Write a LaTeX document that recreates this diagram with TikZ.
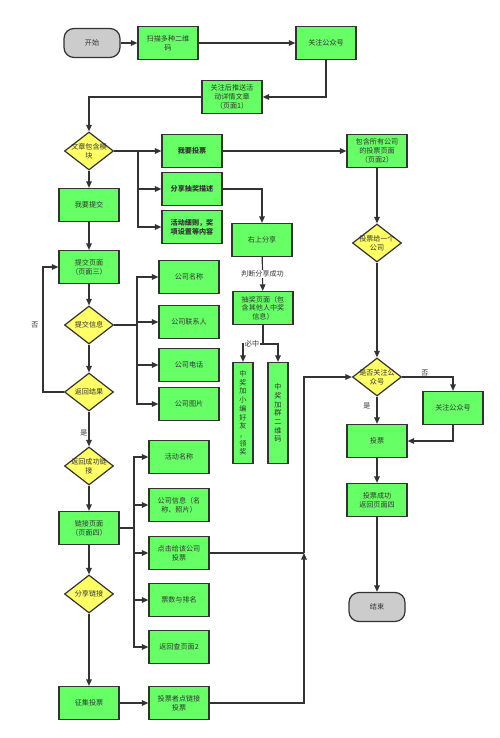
\documentclass[tikz,border=0pt]{standalone}
\usepackage{fontspec}
\setmainfont{Noto Sans CJK SC}
\usetikzlibrary{shapes.geometric,arrows.meta}
\definecolor{boxg}{HTML}{66FF66}
\definecolor{decy}{HTML}{FFFF66}
\definecolor{endg}{HTML}{CCCCCC}
\definecolor{ink}{HTML}{333333}
\begin{document}
\begin{tikzpicture}[x=1pt,y=-1pt, line width=1.2pt, color=ink,
  font=\fontsize{7.1}{8.7}\selectfont,
  gbox/.style={draw=ink, fill=boxg, minimum width=60pt, minimum height=33pt, align=center, inner sep=1pt},
  gboxb/.style={gbox, font=\fontsize{7.1}{8.7}\selectfont\bfseries},
  vbox/.style={draw=ink, fill=boxg, minimum width=20pt, minimum height=101pt, align=center, inner sep=1pt},
  tbox/.style={draw=ink, fill=endg, rounded corners=10pt, minimum width=56pt, minimum height=29pt},
  dec/.style={diamond, draw=ink, fill=decy, minimum width=49pt, minimum height=38pt, inner sep=0pt},
  link/.style={-{Triangle[length=6.5pt,width=5.5pt]}},
  tag/.style={fill=white, inner sep=1pt}]

  \useasboundingbox[fill=white] (0,0) rectangle (500,738);

	%top row
    \node[tbox] (start) at (92,43) {开始};
    \node[tbox] (end) at (377,607) {结束};
    \node[gbox] (scan) at (168,43) {扫描多种二维\\码};
    \node[gbox] (fol1) at (326,43) {关注公众号};
    \node[gbox] (push) at (232,97) {关注后推送活\\动详情文章\\（页面1）};

	%diamonds
    \foreach \x/\y/\txt/\name in { 89/151/{文章包含模\\块}/modl, 377/243/{投票给一个\\公司}/pick,
          377/377/{是否关注公\\众号}/isfol, 89/325/提交信息/info, 89/392/返回结果/result,
          89/466/{返回成功链\\接}/retlk, 89/594/分享链接/sharelk}{
         \node[dec] (\name) at (\x,\y) {};
         \node[align=center] (\name-t) at (\name) {\txt};
    }

	%module boxes
    \foreach \y/\txt/\name in { 151/我要投票/vote, 189/分享抽奖描述/share, 227/{活动细则，奖\\项设置等内容}/rules}{
         \node[gboxb] (\name) at (192,\y) {\txt};
    }

	%left column
    \foreach \y/\txt/\name in { 205/我要提交/submit, 267/{提交页面\\（页面三）}/page3,
          528/{链接页面\\（页面四）}/linkpg, 703/征集投票/collect}{
         \node[gbox] (\name) at (89,\y) {\txt};
    }

	%company info
    \foreach \y/\txt/\name in { 277/公司名称/cname, 322/公司联系人/ccont, 365/公司电话/ctel, 404/公司图片/cpic}{
         \node[gbox] (\name) at (189,\y) {\txt};
    }

	%link page
    \foreach \y/\txt/\name in { 457/活动名称/aname, 505/{公司信息（名\\称、照片）}/cinfo,
          553/{点击给该公司\\投票}/clickv, 600/票数与排名/rank, 647/返回查页面2/back2, 703/{投票者点链接\\投票}/voter}{
         \node[gbox] (\name) at (179,\y) {\txt};
    }

	%share path
    \node[gbox] (shr) at (262,240) {右上分享};
    \node[gbox] (lot) at (263,308) {抽奖页面（包\\含其他人中奖\\信息）};
    \node[vbox] (prz1) at (243,413) {中\\奖\\加\\小\\编\\好\\友\\，\\领\\奖};
    \node[vbox] (prz2) at (278,413) {中\\奖\\加\\群\\二\\维\\码};

	%vote path
    \node[gbox] (allpg) at (377,151) {包含所有公司\\的投票页面\\（页面2）};
    \node[gbox] (fol2) at (453,408) {关注公众号};
    \node[gbox] (ticket) at (377,441) {投票};
    \node[gbox] (done) at (377,500) {投票成功\\返回页面四};

	%junctions
    \coordinate (b1) at (138,151);
    \coordinate (b2) at (137,325);
    \coordinate (b3) at (134,528);
    \coordinate (s) at (263,344);
    \coordinate (j) at (304,553);

	%arrows
    \draw[link] (start) -- (scan);
    \draw[link] (scan) -- (fol1);
    \draw[link] (fol1) |- (push);
    \draw[link] (push) -| (modl);
    \draw[link] (modl) -- (vote);
    \draw[link] (b1) |- (share);
    \draw[link] (b1) |- (rules);
    \draw[link] (modl) -- (submit);
    \draw[link] (submit) -- (page3);
    \draw[link] (page3) -- (info);
    \draw[link] (info) -- (result);
    \draw[link] (result.west) -- ++(-21,0) |- (page3.west);
    \node (no1) at (35,325) {否};
    \draw (info.east) -- (b2);
    \foreach \name in {cname,ccont,ctel,cpic}{
         \draw[link] (b2) |- (\name);
    }
    \draw[link] (result) -- (retlk);
    \node (yes1) at (84,433) {是};
    \draw[link] (retlk) -- (linkpg);
    \draw[link] (linkpg) -- (sharelk);
    \draw[link] (sharelk) -- (collect);
    \draw[link] (collect) -- (voter);
    \draw (linkpg.east) -- (b3);
    \foreach \name in {aname,cinfo,clickv,rank,back2}{
         \draw[link] (b3) |- (\name);
    }

    \draw[link] (share) -| (shr);
    \draw[link] (shr) -- (lot) node[tag, pos=0.5] (chk) {判断分享成功};
    \draw (lot) -- (s);
    \draw[link] (s) -| (prz1);
    \draw[link] (s) -| (prz2);
    \node[tag] (must) at (252,344) {必中};

    \draw[link] (vote) -- (allpg);
    \draw[link] (allpg) -- (pick);
    \draw[link] (pick) -- (isfol);
    \draw[link] (isfol) -| (fol2);
    \node (no2) at (425,373) {否};
    \draw[link] (fol2) |- (ticket);
    \draw[link] (isfol) -- (ticket);
    \node (yes2) at (367,406) {是};
    \draw[link] (ticket) -- (done);
    \draw[link] (done) -- (end);

    \draw[link] (voter) -| (j);
    \draw (clickv) -- (j);
    \draw[link] (j) |- (isfol);

\end{tikzpicture}
\end{document}
